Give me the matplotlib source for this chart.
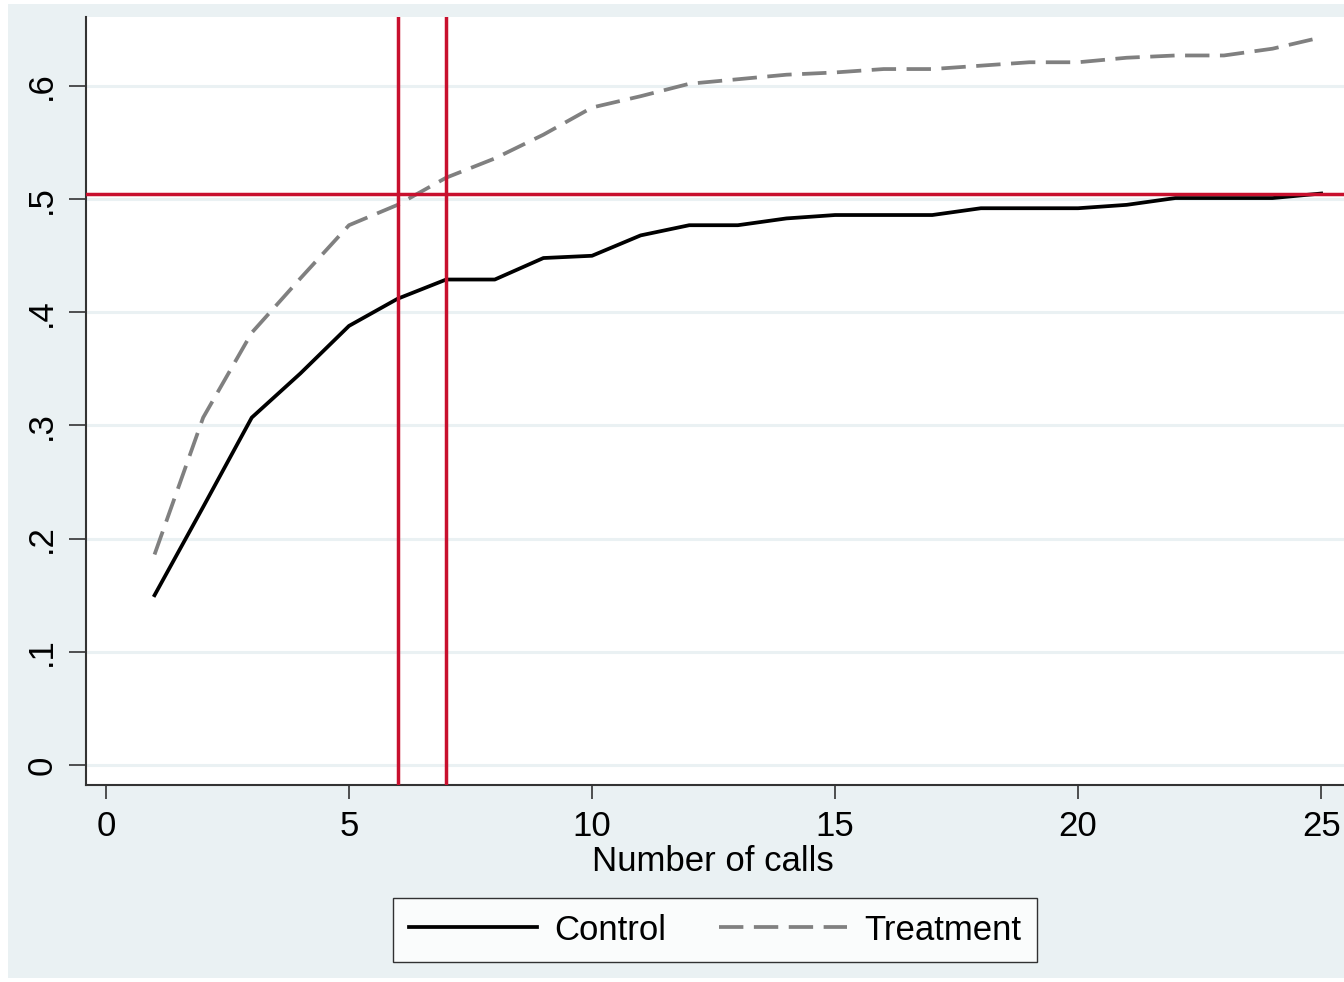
import matplotlib
matplotlib.use("Agg")
import matplotlib.pyplot as plt
from matplotlib.patches import Rectangle

calls = list(range(1, 26))
control = [0.150, 0.228, 0.307, 0.346, 0.388, 0.412, 0.429, 0.429, 0.448, 0.450,
           0.468, 0.477, 0.477, 0.483, 0.486, 0.486, 0.486, 0.492, 0.492, 0.492,
           0.495, 0.501, 0.501, 0.501, 0.505]
treatment = [0.186, 0.307, 0.382, 0.430, 0.477, 0.495, 0.519, 0.536, 0.557, 0.581,
             0.591, 0.602, 0.606, 0.610, 0.612, 0.615, 0.615, 0.618, 0.621, 0.621,
             0.625, 0.627, 0.627, 0.633, 0.643]
hline_y = 0.505
vlines_x = [6, 7]
xticks = [0, 5, 10, 15, 20, 25]
yticks = [0, 0.1, 0.2, 0.3, 0.4, 0.5, 0.6]
ytick_labels = ["0", ".1", ".2", ".3", ".4", ".5", ".6"]

plt.rcParams['font.family'] = ['Liberation Sans', 'DejaVu Sans']

BG = '#EAF1F3'
RED = '#C8102E'

fig = plt.figure(figsize=(13.44, 9.82), dpi=100)
fig.patch.set_facecolor('white')
fig.patches.append(Rectangle((8/1344, 4/982), 1 - 8/1344, 1 - 8/982,
                             transform=fig.transFigure, facecolor=BG,
                             edgecolor='none', zorder=-10))

ax = fig.add_axes([86/1344, 1 - 785/982, 1 - 86/1344, (785 - 17)/982])
ax.set_facecolor('white')
ax.set_xlim(-0.41, 25.47)
ax.set_ylim(-0.0177, 0.661)

for y in yticks:
    ax.axhline(y, color=BG, lw=2.2, zorder=0)

ax.plot(calls, control, color='black', lw=2.7, label='Control', zorder=3)
ax.plot(calls, treatment, color='#808080', lw=2.7, dashes=(6.5, 2.8),
        label='Treatment', zorder=3)

ax.axhline(hline_y, color=RED, lw=2.5, zorder=4)
for x in vlines_x:
    ax.axvline(x, color=RED, lw=2.5, zorder=4)

ax.set_xticks(xticks)
ax.set_xticklabels([str(t) for t in xticks], fontsize=25)
ax.set_yticks(yticks)
ax.set_yticklabels(ytick_labels, fontsize=25, rotation=90, va='center')
ax.tick_params(axis='x', length=10, width=1.2, color='#333333', pad=8)
ax.tick_params(axis='y', length=12, width=1.2, color='#333333', pad=8)

for s in ['top', 'right']:
    ax.spines[s].set_visible(False)
for s in ['left', 'bottom']:
    ax.spines[s].set_color('#333333')
    ax.spines[s].set_linewidth(1.5)

ax.set_xlabel('Number of calls', fontsize=25, labelpad=4)
ax.xaxis.set_label_coords((713 - 86) / (1344 - 86), -0.078)

handles, labels = ax.get_legend_handles_labels()
leg = fig.legend(handles, labels, loc='center', bbox_to_anchor=(715/1344, 1 - 930/982),
                 ncol=2, fontsize=25, frameon=True, fancybox=False,
                 edgecolor='black', handlelength=3.7, handletextpad=0.5,
                 columnspacing=1.5, borderpad=0.45, borderaxespad=0)
leg.get_frame().set_linewidth(1.0)
leg.get_frame().set_facecolor('white')

fig.savefig('out.png', dpi=100, facecolor=fig.get_facecolor())
